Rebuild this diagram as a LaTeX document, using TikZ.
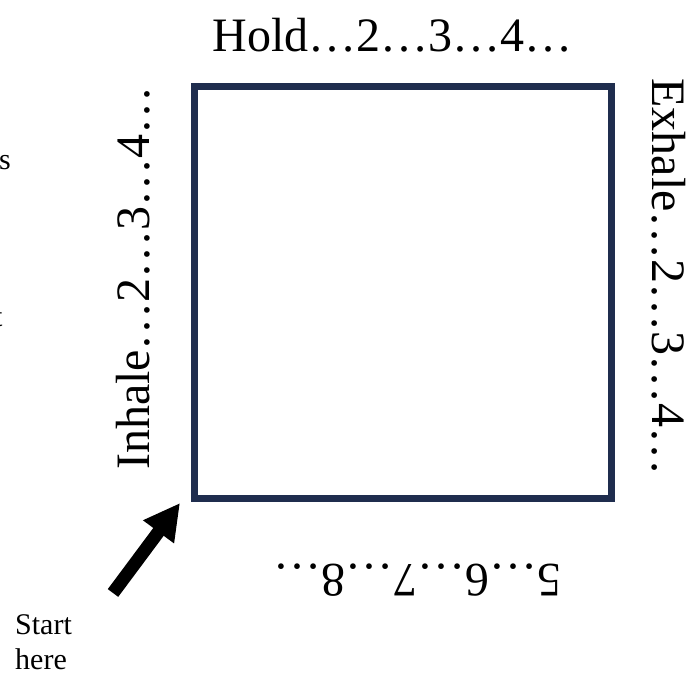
\documentclass[tikz,border=0pt]{standalone}
\usepackage{fontspec}
\setmainfont{Liberation Serif}
\usetikzlibrary{arrows.meta}
\definecolor{navy}{HTML}{1F2D4E}
\begin{document}
\begin{tikzpicture}[x=1pt,y=1pt,
  big/.style={font=\fontsize{48}{54}\selectfont, inner sep=0pt},
  small/.style={font=\fontsize{30}{35}\selectfont, inner sep=0pt}]
\useasboundingbox (0,0) rectangle (699,675);
\node[draw=navy, line width=7pt, minimum width=417pt, minimum height=412pt, inner sep=0pt] (box) at (402.5,382) {};
\node[big] (hold) at (392.5,640) {Hold…2…3…4…};
\node[big, rotate=90] (inhale) at (133,397) {Inhale…2…3…4…};
\node[big, rotate=-90] (exhale) at (669,398) {Exhale…2…3…4…};
\node[big, rotate=180] (bottom) at (417,95) {5…6…7…8…};
\node[small, align=left, anchor=north west] (start) at (15,61) {Start\\here};
\coordinate (tail) at (113,82);
\coordinate (tip) at (180,172);
\draw[line width=13pt, -{Triangle[length=36pt,width=36pt]}] (tail) -- (tip);
\node[small, anchor=base west] (fs) at (-1,505) {s};
\node[small, anchor=base west] (ft) at (-6,348) {t};
\end{tikzpicture}
\end{document}
